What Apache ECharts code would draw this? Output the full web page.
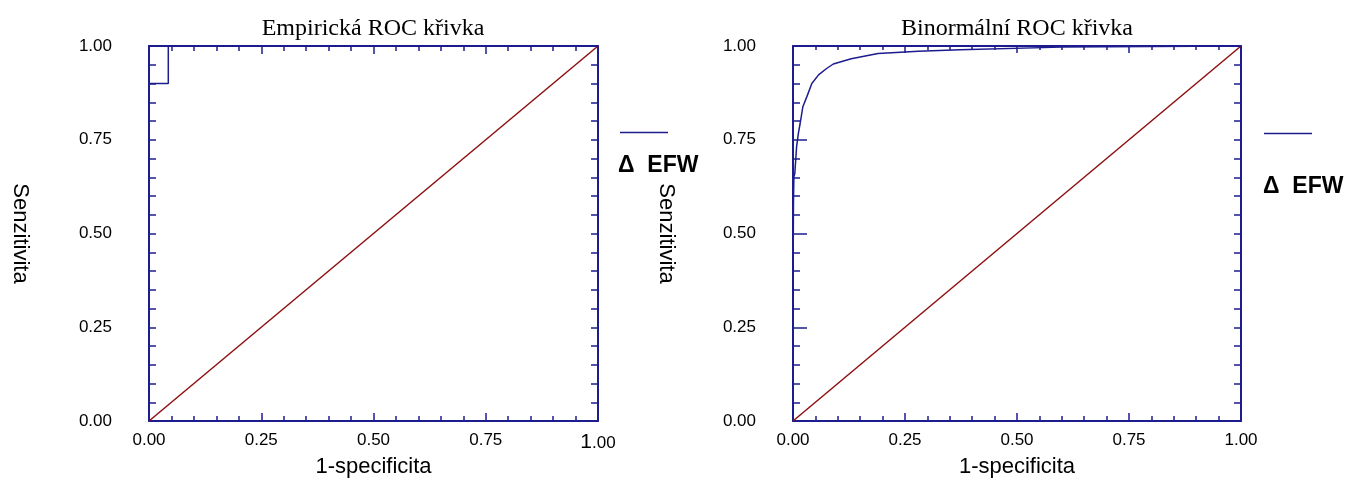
<!DOCTYPE html>
<html>
<head>
<meta charset="utf-8">
<script src="https://cdn.jsdelivr.net/npm/echarts@6/dist/echarts.min.js"></script>
<style>html,body{margin:0;padding:0;background:#fff}#c{width:1349px;height:483px}</style>
</head>
<body>
<div id="c"></div>
<script>
var titles = ['Empirická ROC křivka', 'Binormální ROC křivka'];
var xName = '1-specificita';
var yName = 'Senzitivita';
var legendName = '\u0394  EFW';
var empiricalX = [0, 0, 0.043, 0.043, 1];
var empiricalY = [0, 0.9, 0.9, 1, 1];
var binormalX = [0, 0.0005, 0.001, 0.002, 0.004, 0.008, 0.012, 0.016, 0.022, 0.031, 0.042, 0.057, 0.075, 0.09, 0.13, 0.19, 0.28, 0.373, 0.6, 1];
var binormalY = [0.287, 0.45, 0.58, 0.651, 0.66, 0.731, 0.767, 0.794, 0.838, 0.865, 0.90, 0.923, 0.94, 0.952, 0.966, 0.98, 0.986, 0.99, 0.997, 1];
var diagX = [0, 1];
var diagY = [0, 1];

function zip(a, b) { return a.map(function (v, i) { return [v, b[i]]; }); }

var AX = '#1c1c8e';
var RED = '#8e1010';
var FONT = 'Liberation Sans, Arial, sans-serif';

function xAxisDef(grid, pos, showLabel, bigOne, majLen, minLen) {
  return {
    type: 'value', gridIndex: grid, position: pos, min: 0, max: 1, interval: 0.25,
    name: showLabel ? xName : '', nameLocation: 'middle', nameGap: 35, nameMoveOverlap: false,
    nameTextStyle: { fontFamily: FONT, fontSize: 22, color: '#000' },
    axisLine: { show: true, onZero: false, lineStyle: { color: AX, width: 2 } },
    axisTick: { show: true, inside: true, length: majLen, lineStyle: { color: AX, width: 1.5 } },
    minorTick: { show: true, splitNumber: 5, length: minLen, lineStyle: { color: AX, width: 1.5 } },
    splitLine: { show: false },
    axisLabel: {
      show: showLabel, margin: 11, color: '#000', fontFamily: FONT, fontSize: 17,
      formatter: function (v) {
        if (bigOne && v === 1) return '{big|1}{small|.00}';
        return v.toFixed(2);
      },
      rich: {
        big: { fontSize: 21, fontFamily: FONT, color: '#000' },
        small: { fontSize: 17, fontFamily: FONT, color: '#000', padding: [2, 0, 0, 0] }
      }
    }
  };
}
function yAxisDef(grid, pos, showLabel, majLen, minLen, gap) {
  return {
    type: 'value', gridIndex: grid, position: pos, min: 0, max: 1, interval: 0.25,
    name: showLabel ? yName : '', nameLocation: 'middle', nameGap: gap, nameRotate: -90, nameMoveOverlap: false,
    nameTextStyle: { fontFamily: FONT, fontSize: 22, color: '#000' },
    axisLine: { show: true, onZero: false, lineStyle: { color: AX, width: 2 } },
    axisTick: { show: true, inside: true, length: majLen, lineStyle: { color: AX, width: 1.5 } },
    minorTick: { show: true, splitNumber: 5, length: minLen, lineStyle: { color: AX, width: 1.5 } },
    splitLine: { show: false },
    axisLabel: {
      show: showLabel, margin: 37, color: '#000', fontFamily: FONT, fontSize: 17,
      formatter: function (v) { return v.toFixed(2); }
    }
  };
}

var TITLE_STYLE = { fontFamily: 'Liberation Serif, Times New Roman, serif', fontSize: 24, fontWeight: 'normal', color: '#000' };
var option = {
  animation: false,
  backgroundColor: '#fff',
  title: [
    { text: titles[0], left: 368, top: 12, textAlign: 'center', textStyle: TITLE_STYLE },
    { text: titles[1], left: 1012, top: 12, textAlign: 'center', textStyle: TITLE_STYLE }
  ],
  grid: [
    { left: 149, top: 46, width: 449, height: 375, outerBoundsMode: 'none', containLabel: false },
    { left: 793, top: 46, width: 448, height: 375, outerBoundsMode: 'none', containLabel: false }
  ],
  xAxis: [
    xAxisDef(0, 'bottom', true, true, 8, 5),
    xAxisDef(0, 'top', false, false, 8, 5),
    xAxisDef(1, 'bottom', true, false, 8, 5),
    xAxisDef(1, 'top', false, false, 7, 4)
  ],
  yAxis: [
    yAxisDef(0, 'left', true, 7, 7, 118),
    yAxisDef(0, 'right', false, 7, 7, 0),
    yAxisDef(1, 'left', true, 14, 7, 116),
    yAxisDef(1, 'right', false, 7, 7, 0)
  ],
  graphic: [
    { type: 'line', shape: { x1: 620, y1: 132.5, x2: 668, y2: 132.5 }, style: { stroke: AX, lineWidth: 1.5 } },
    { type: 'text', left: 618, top: 154, style: { text: legendName, font: 'bold 23px ' + FONT, fill: '#000' } },
    { type: 'line', shape: { x1: 1264, y1: 133.5, x2: 1312, y2: 133.5 }, style: { stroke: AX, lineWidth: 1.5 } },
    { type: 'text', left: 1263, top: 175, style: { text: legendName, font: 'bold 23px ' + FONT, fill: '#000' } }
  ],
  series: [
    { type: 'line', xAxisIndex: 0, yAxisIndex: 0, data: zip(diagX, diagY), showSymbol: false,
      lineStyle: { color: RED, width: 1.5 }, z: 2 },
    { type: 'line', xAxisIndex: 0, yAxisIndex: 0, data: zip(empiricalX, empiricalY), showSymbol: false,
      lineStyle: { color: AX, width: 1.5 }, z: 3 },
    { type: 'line', xAxisIndex: 2, yAxisIndex: 2, data: zip(diagX, diagY), showSymbol: false,
      lineStyle: { color: RED, width: 1.5 }, z: 2 },
    { type: 'line', xAxisIndex: 2, yAxisIndex: 2, data: zip(binormalX, binormalY), showSymbol: false,
      lineStyle: { color: AX, width: 1.5 }, z: 3 }
  ]
};
var chart = echarts.init(document.getElementById('c'), null, { renderer: 'canvas' });
chart.setOption(option);
</script>
</body>
</html>
